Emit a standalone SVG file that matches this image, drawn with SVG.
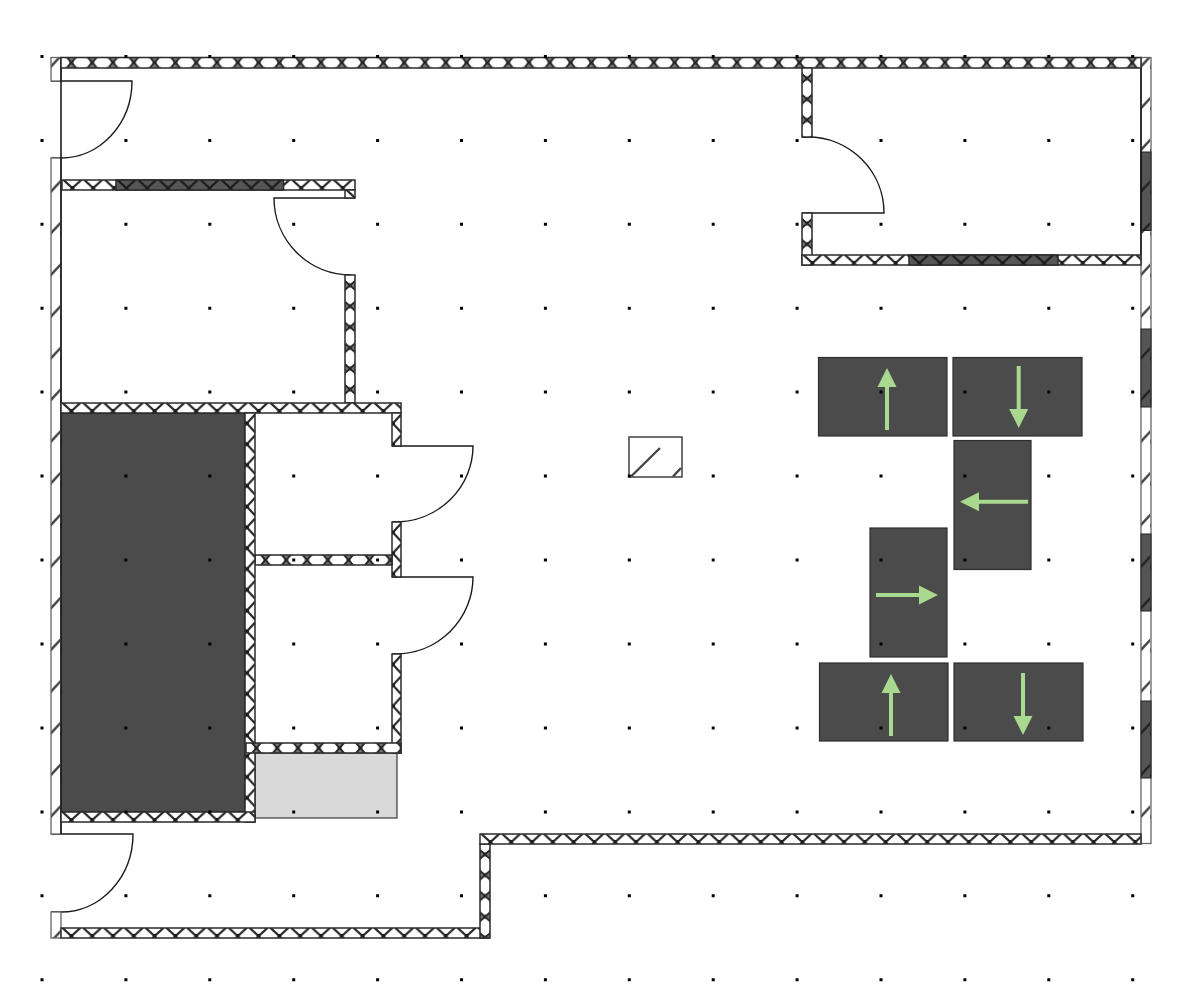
<svg xmlns="http://www.w3.org/2000/svg" width="1200" height="991" viewBox="0 0 1200 991">
<style>
.w{stroke:#2a2a2a;stroke-width:1.5}
.f{fill:url(#hFull)}
.t{fill:url(#hTri)}
.d{fill:url(#hDark)}
.s{fill:url(#hatch);stroke:#666;stroke-width:1.3}
.door{fill:none;stroke:#1a1a1a;stroke-width:1.4}
.pad{fill:#4b4b4b;stroke:#2e2e2e;stroke-width:1.2}
.arrow{stroke:#a9d88f;stroke-width:4;fill:none}
.dots{stroke:#000;stroke-width:3;stroke-dasharray:3 80.9;fill:none}
.edge{stroke:#111;stroke-width:1.5;fill:none}
</style>
<defs>
<pattern id="hFull" patternUnits="userSpaceOnUse" width="20.8" height="10">
<rect width="20.8" height="10" fill="#777"/>
<ellipse cx="0" cy="5" rx="8.2" ry="5.4" fill="#fff"/>
<ellipse cx="20.8" cy="5" rx="8.2" ry="5.4" fill="#fff"/>
<path d="M6.400 0.500L14.400 9.500M14.400 0.500L6.400 9.500" stroke="#1e1e1e" stroke-width="1.700"/>
</pattern>
<pattern id="hTri" patternUnits="userSpaceOnUse" width="20.8" height="10">
<rect width="20.8" height="10" fill="#fff"/>
<path d="M1.500 0L12.500 10M19.300 0L8.300 10" stroke="#2a2a2a" stroke-width="2.300" fill="none"/>
<circle cx="10.400" cy="7.800" r="1.700" fill="#1a1a1a"/>
</pattern>
<pattern id="hDark" patternUnits="userSpaceOnUse" width="20.8" height="10">
<rect width="20.8" height="10" fill="#565656"/>
<path d="M1.500 0L12.500 10M19.300 0L8.300 10" stroke="#1c1c1c" stroke-width="2.300" fill="none"/>
</pattern>
<pattern id="hatch" patternUnits="userSpaceOnUse" width="10" height="41.67">
<rect width="10" height="41.67" fill="#fff"/>
<path d="M-1 27L11 14" stroke="#444" stroke-width="2.400" fill="none"/>
</pattern>
<pattern id="hatchD" patternUnits="userSpaceOnUse" width="10" height="41.67">
<rect width="10" height="41.67" fill="#555"/>
<path d="M-1 27L11 14" stroke="#222" stroke-width="2.400" fill="none"/>
</pattern>
<marker id="head" markerUnits="userSpaceOnUse" markerWidth="20" markerHeight="20" refX="0" refY="10" orient="auto">
<path d="M0 0.500L19 10L0 19.500Z" fill="#a9d88f"/>
</marker>
</defs>
<rect width="1200" height="991" fill="#fff"/>

<g id="pads">
<rect class="pad" x="818.500" y="357.500" width="128.500" height="78.500"/>
<rect class="pad" x="953" y="357.500" width="129" height="78.500"/>
<rect class="pad" x="954" y="440.500" width="77" height="129"/>
<rect class="pad" x="870" y="528" width="77" height="129"/>
<rect class="pad" x="819.500" y="663" width="128.500" height="78"/>
<rect class="pad" x="954" y="663" width="129" height="78"/>
<path class="arrow" marker-end="url(#head)" d="M887 430V387"/>
<path class="arrow" marker-end="url(#head)" d="M1018.700 366V409"/>
<path class="arrow" marker-end="url(#head)" d="M1028 501.700H979"/>
<path class="arrow" marker-end="url(#head)" d="M876 595H919"/>
<path class="arrow" marker-end="url(#head)" d="M891 736V693"/>
<path class="arrow" marker-end="url(#head)" d="M1023 673V716"/>
</g>

<g id="storage">
<rect x="61" y="413" width="184" height="399" fill="#4b4b4b" stroke="#222" stroke-width="1"/>
<rect x="255" y="753" width="142" height="65" fill="#d9d9d9" stroke="#444" stroke-width="1.300"/>
</g>

<g id="doors">
<path class="door" d="M51 81H132A71 77 0 0 1 61 158H51"/>
<path class="door" d="M355 198H274A77 77 0 0 0 351 275H345"/>
<path class="door" d="M802 137H808A76 76 0 0 1 884 213H802"/>
<path class="door" d="M392 446H473A78 76 0 0 1 395 522H392"/>
<path class="door" d="M392 577H473A78 77 0 0 1 395 654H392"/>
<path class="door" d="M51 834H133A72 78 0 0 1 61 912H51"/>
</g>

<g id="outer-side-walls">
<rect class="s" x="51" y="57.500" width="10" height="23.500"/>
<rect class="s" x="51" y="158" width="10" height="676"/>
<rect class="s" x="51" y="912" width="10" height="26"/>
<rect class="s" x="1141" y="57.500" width="10" height="786"/>
<rect x="1141" y="152" width="10" height="78.500" fill="url(#hatchD)" stroke="#222"/>
<rect x="1141" y="329" width="10" height="78" fill="url(#hatchD)" stroke="#222"/>
<rect x="1141" y="534" width="10" height="77" fill="url(#hatchD)" stroke="#222"/>
<rect x="1141" y="701" width="10" height="77" fill="url(#hatchD)" stroke="#222"/>
<path class="edge" d="M61 57V834M1141 68V255"/>
</g>

<g id="walls">
<rect class="w f" width="1080" height="10.500" transform="translate(61,57.500)"/>
<rect class="w t" width="293" height="10" transform="translate(62,180)"/>
<rect class="w d" width="167.500" height="10" transform="translate(116,180)"/>
<rect class="w t" width="10" height="8" transform="translate(345,190)"/>
<rect class="w f" width="128" height="10" transform="translate(355,275) rotate(90)"/>
<rect class="w t" width="340" height="10" transform="translate(61,403)"/>
<rect class="w t" width="33" height="9" transform="translate(401,413) rotate(90)"/>
<rect class="w t" width="55" height="9" transform="translate(401,522) rotate(90)"/>
<rect class="w t" width="99" height="9" transform="translate(401,654) rotate(90)"/>
<rect class="w f" width="137" height="10" transform="translate(255,555)"/>
<rect class="w t" width="409" height="10" transform="translate(255,413) rotate(90)"/>
<rect class="w f" width="155" height="10" transform="translate(246,743)"/>
<rect class="w t" width="194" height="10" transform="translate(61,812)"/>
<rect class="w t" width="428" height="10" transform="translate(61,928)"/>
<rect class="w f" width="94" height="10" transform="translate(490,844) rotate(90)"/>
<rect class="w t" width="661" height="10" transform="translate(480,834)"/>
<rect class="w f" width="69" height="10" transform="translate(812,68) rotate(90)"/>
<rect class="w f" width="52" height="10" transform="translate(812,213) rotate(90)"/>
<rect class="w t" width="339" height="10" transform="translate(802,255)"/>
<rect class="w d" width="149" height="10" transform="translate(909,255)"/>
</g>

<g id="fixture">
<rect x="629" y="437" width="53" height="40" fill="#fff" stroke="#333" stroke-width="1.400"/>
<path d="M631 476.500L660 448M673 476.500L681 468" stroke="#444" stroke-width="2.400" fill="none"/>
</g>

<g id="grid" class="dots">
<path d="M40.500 56.500H1140M40.500 140.400H1140M40.500 224.300H1140M40.500 308.200H1140M40.500 392.100H1140M40.500 476H1140M40.500 560H1140M40.500 644H1140M40.500 728H1140M40.500 812H1140M40.500 895.800H1140M40.500 979.700H1140"/>
</g>
</svg>
